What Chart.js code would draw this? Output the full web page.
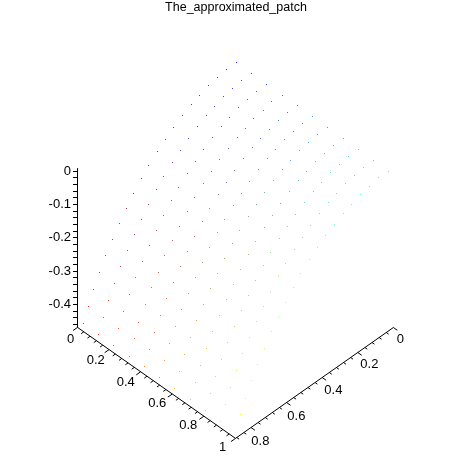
<!DOCTYPE html>
<html>
<head>
<meta charset="utf-8">
<style>html,body{margin:0;padding:0;background:#fff}canvas{display:block}</style>
<script src="https://cdn.jsdelivr.net/npm/chart.js@4/dist/chart.umd.js"></script>
</head>
<body>
<canvas id="c" width="472" height="472"></canvas>
<script>
const chartTitle = "The_approximated_patch";
// surface samples
const xValues = [0,.097,.194,.291,.388,.486,.583,.68,.777,.874,.971];
const yDrift  = [0,.0006,.0012,.0018,.0024,.003,.0036,.0042,.0048,.0054,.006];
const yValues = [-.006,.051,.101,.152,.202,.247,.298,.348,.393,.438,.489,.528,.573,.612,.652,.691,.73,.764,.798,.826,.854];
const zValues = [-.009,-.008,-.014,-.019,-.03,-.04,-.054,-.071,-.09,-.109,-.132,-.157,-.185,-.215,-.245,-.279,-.312,-.35,-.389,-.429,-.47];
// axes
const xTicks = [0,.04,.08,.12,.16,.2,.24,.28,.32,.36,.4,.44,.48,.52,.56,.6,.64,.68,.72,.76,.8,.84,.88,.92,.96,1];
const yTicks = [0,.04,.08,.12,.16,.2,.24,.28,.32,.36,.4,.44,.48,.52,.56,.6,.64,.68,.72,.76,.8,.84,.88];
const zTicks = [0,-.02,-.04,-.06,-.08,-.1,-.12,-.14,-.16,-.18,-.2,-.22,-.24,-.26,-.28,-.3,-.32,-.34,-.36,-.38,-.4,-.42,-.44,-.46];
const xLabelTicks = [0,.2,.4,.6,.8,1];
const xLabels = ["0","0.2","0.4","0.6","0.8","1"];
const yLabelTicks = [0,.2,.4,.6,.8];
const yLabels = ["0","0.2","0.4","0.6","0.8"];
const zLabelTicks = [0,-.1,-.2,-.3,-.4];
const zLabels = ["0","-0.1","-0.2","-0.3","-0.4"];
const xMax = 1, yMax = .887, zMin = -.469, zTop = .008;

// oblique view: x runs down-right, y down-left, z straight up
const project = (x, y, z) => ({
  x: x + 1.1266 * (yMax - y),
  y: z - (111 * x + 125 * (y - yMax)) / 333
});
const isMajor = (v, list) => list.some(t => Math.abs(t - v) < 1e-6);

const surface = [], surfaceColors = [];
const tint = c => Math.round(45 + 210 * c);
yValues.forEach((y, j) => xValues.forEach((x, i) => {
  surface.push(project(x, y + yDrift[i], zValues[j]));
  const r = j / 20, g = i / 10;
  surfaceColors.push(`rgb(${tint(r)},${tint(g)},${tint(1-r)})`);
}));

const gap = {x: NaN, y: NaN};
const axisLines = [];
axisLines.push(project(0, yMax, zTop), project(0, yMax, zMin), project(xMax, yMax, zMin), project(xMax, 0, zMin), gap);
xTicks.forEach(t => {
  const d = isMajor(t, xLabelTicks) ? .025 : .015;
  axisLines.push(project(t, yMax, zMin), project(t, yMax + d, zMin), gap);
});
yTicks.forEach(t => {
  const d = isMajor(t, yLabelTicks) ? .025 : .015;
  axisLines.push(project(xMax, t, zMin), project(xMax + d, t, zMin), gap);
});

const floorFont = '13px "Liberation Sans", Arial, sans-serif';
const xLabelOffset = [[-7,12],[-13.4,10.8],[-15,10.6],[-15,9.4],[-15.6,9.2],[-12.8,9]];
const yLabelOffset = [[7,12],[11.6,12],[11.2,13],[9.8,14],[9.4,14]];
const floorLabels = {
  id: 'floorLabels',
  afterDatasetUpdate(chart, args) {
    if (args.index !== 0) return;
    // the reference plots single device pixels
    chart.getDatasetMeta(0).data.forEach(p => {
      p.x = Math.floor(p.x) + .5; p.y = Math.floor(p.y) + .5;
    });
  },
  afterDraw(chart) {
    const {ctx, scales} = chart;
    ctx.save();
    ctx.font = floorFont; ctx.fillStyle = '#000';
    ctx.textAlign = 'center'; ctx.textBaseline = 'middle';
    const put = (p, text, off) => ctx.fillText(text,
      scales.x.getPixelForValue(p.x) + off[0], scales.y.getPixelForValue(p.y) + off[1]);
    xLabels.forEach((s, k) => put(project(xLabelTicks[k], yMax, zMin), s, xLabelOffset[k]));
    yLabels.forEach((s, k) => put(project(xMax, yLabelTicks[k], zMin), s, yLabelOffset[k]));
    ctx.restore();
  }
};

new Chart(document.getElementById('c'), {
  type: 'scatter',
  data: {datasets: [
    {data: surface, pointStyle: 'rect', pointRadius: .7072, pointBackgroundColor: surfaceColors,
     pointBorderWidth: 0, showLine: false, clip: false},
    {data: axisLines, showLine: true, borderColor: '#000', borderWidth: 1, pointRadius: 0,
     spanGaps: false, clip: false}
  ]},
  plugins: [floorLabels],
  options: {
    responsive: false, animation: false, events: [],
    layout: {padding: 0, autoPadding: false},
    plugins: {
      legend: {display: false}, tooltip: {enabled: false},
      title: {display: true, text: chartTitle, color: '#000',
        font: {family: '"Liberation Sans", Arial, sans-serif', size: 12.5, weight: 'normal', lineHeight: 1.2},
        padding: {top: 0, bottom: 9}}
    },
    scales: {
      x: {type: 'linear', display: false, min: -.5/158, max: 394.5/158},
      y: {type: 'linear', min: (171.2-472)/333, max: (171.2-24)/333,
        afterBuildTicks(s) { s.ticks = zTicks.slice().reverse().map(v => ({value: v})); },
        afterFit(s) { s.width = 77; s.paddingTop = 0; s.paddingBottom = 0; },
        border: {display: false},
        grid: {drawOnChartArea: false, drawTicks: true, tickLength: 4, tickColor: '#000', tickWidth: 1},
        ticks: {color: '#000', padding: 2, autoSkip: false, maxRotation: 0,
          font: {family: '"Liberation Sans", Arial, sans-serif', size: 13},
          callback(v) { const k = zLabelTicks.findIndex(t => Math.abs(t - v) < 1e-6); return k < 0 ? '' : zLabels[k]; }}
      }
    }
  }
});
</script>
</body>
</html>
